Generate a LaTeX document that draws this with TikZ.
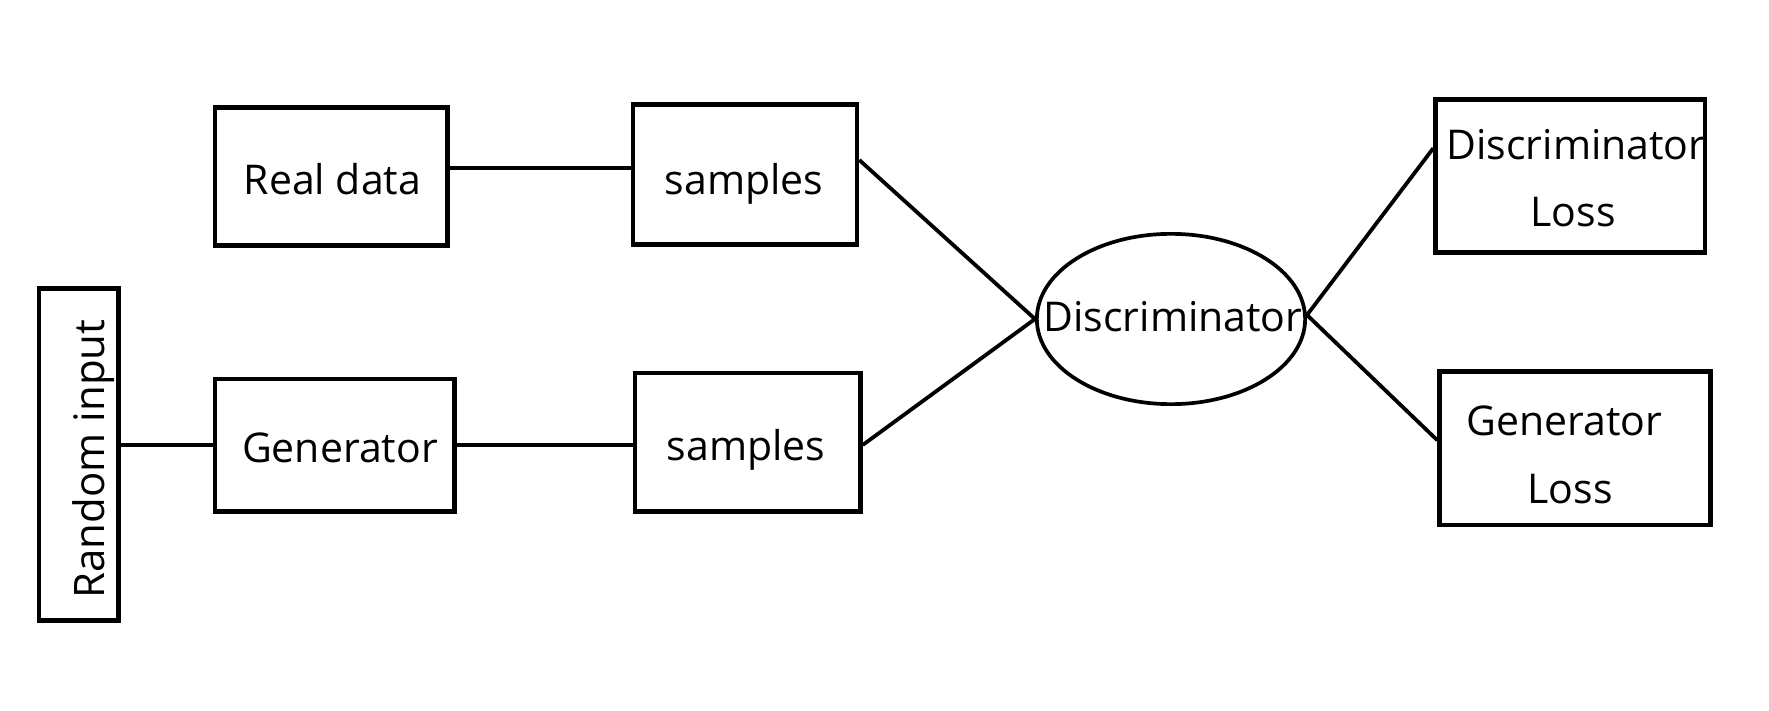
\documentclass[tikz,border=0pt]{standalone}
\usepackage{fontspec}
\setmainfont{Open Sans}
\usetikzlibrary{shapes.geometric}
\begin{document}
\begin{tikzpicture}[x=1pt,y=-1pt,
  blk/.style={draw, rectangle, line width=4.7pt, inner sep=0pt},
  oval/.style={draw, ellipse, line width=3.7pt, inner sep=0pt},
  lbl/.style={anchor=base, inner sep=0pt, font=\fontsize{41}{48}\selectfont},
  wire/.style={line width=3.8pt}]
\useasboundingbox (0,0) rectangle (1769,711);

% boxes and the discriminator ellipse
\node[blk, minimum width=232.6pt, minimum height=138pt]   (rd) at (331.3,176.3) {};
\node[blk, minimum width=223.9pt, minimum height=140pt]   (s1) at (745,174.7) {};
\node[blk, minimum width=79.3pt,  minimum height=332pt]   (ri) at (78.7,454.3) {};
\node[blk, minimum width=239.3pt, minimum height=132.6pt] (gen) at (334.7,445.3) {};
\node[blk, minimum width=225.3pt, minimum height=138.6pt] (s2) at (747.7,442.3) {};
\node[oval, minimum width=268.3pt, minimum height=170.3pt] (ell) at (1171,319) {};
\node[blk, minimum width=269.3pt, minimum height=153pt]   (dl) at (1570.3,176.2) {};
\node[blk, minimum width=270.6pt, minimum height=153.3pt] (gl) at (1575,448.3) {};

% labels
\node[lbl] (trd) at (332.5,195) {Real data};
\node[lbl] (ts1) at (744.2,194.3) {samples};
\node[lbl] (tgen) at (340,462.3) {Generator};
\node[lbl] (ts2) at (746,460) {samples};
\node[lbl] (tell) at (1173,331) {Discriminator};
\node[lbl] (tdl1) at (1576,160) {Discriminator};
\node[lbl] (tdl2) at (1573,226.7) {Loss};
\node[lbl] (tgl1) at (1564.5,435) {Generator};
\node[lbl] (tgl2) at (1570,503.3) {Loss};
\node[lbl, rotate=90, font=\fontsize{42}{50}\selectfont] (tri) at (104,459) {Random input};

% connectors
\coordinate (c1) at ([yshift=8.6pt]rd.east);
\draw[wire] (c1) -- (c1 -| s1.west);
\draw[wire] (ri.east |- gen.west) -- (gen.west);
\draw[wire] (gen.east) -- (gen.east -| s2.west);
\draw[wire] ([yshift=14.7pt]s1.east) -- (ell.west);
\draw[wire] ([yshift=-2.7pt]s2.east) -- (ell.west);
\draw[wire] ([yshift=4pt]ell.east) -- ([yshift=28pt]dl.west);
\draw[wire] ([yshift=4pt]ell.east) -- ([yshift=8pt]gl.west);
\end{tikzpicture}
\end{document}
